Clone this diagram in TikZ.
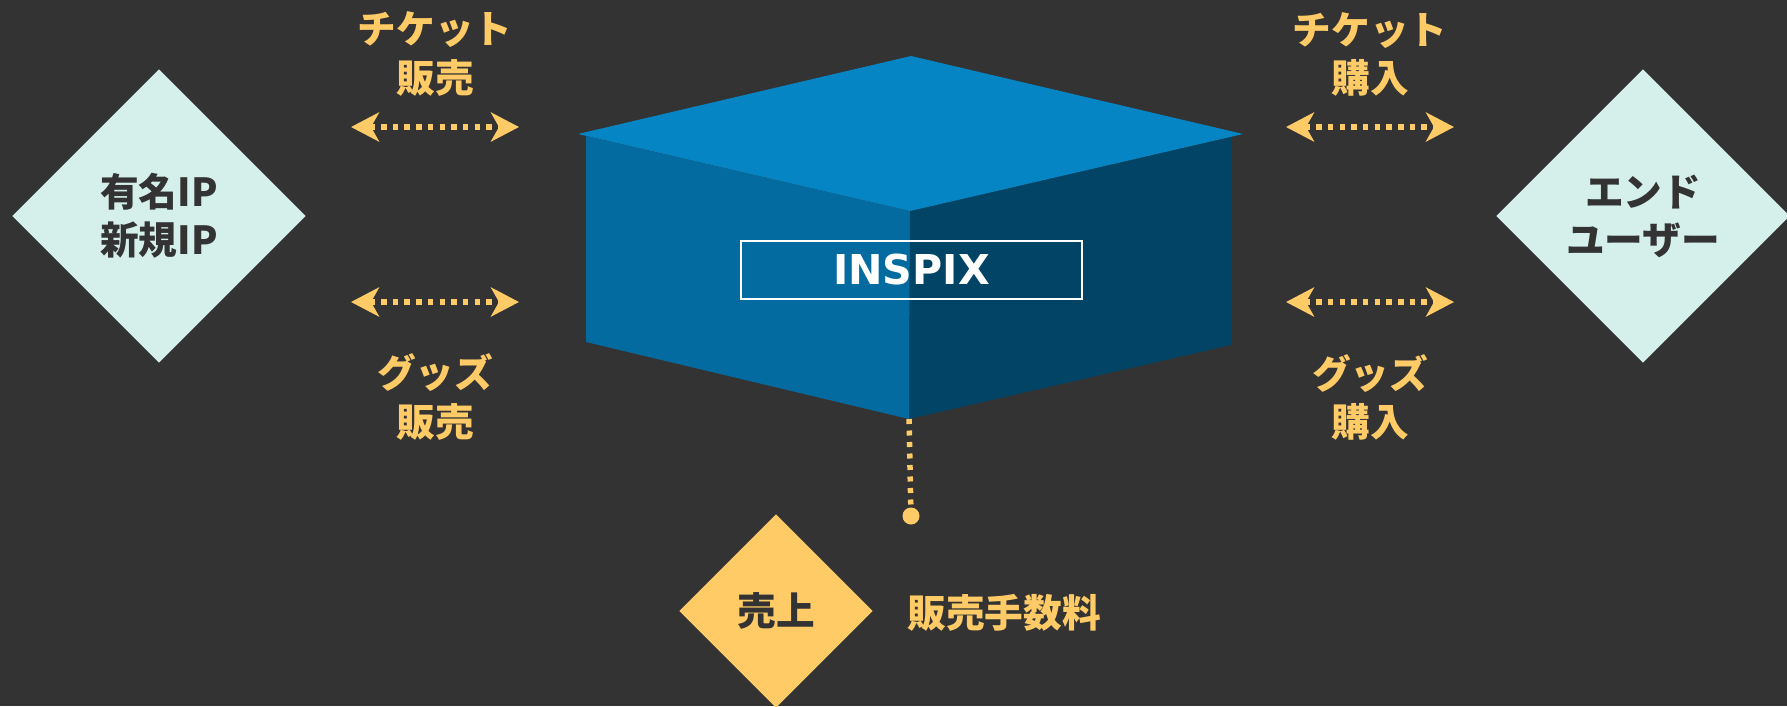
\documentclass[tikz,border=0pt]{standalone}
\usepackage{fontspec}
\newfontfamily\jpfont{Noto Sans CJK JP}
\newfontfamily\logofont{DejaVu Sans}
\usetikzlibrary{arrows.meta, shapes.geometric}
\definecolor{bgdark}{RGB}{51,51,51}
\definecolor{labelgold}{RGB}{255,203,102}
\definecolor{mintfill}{RGB}{213,240,235}
\definecolor{cubetop}{RGB}{5,133,196}
\definecolor{cubeleft}{RGB}{4,107,160}
\definecolor{cuberight}{RGB}{2,68,102}

\begin{document}
\begin{tikzpicture}
      % Styles
      \tikzset{party/.style={diamond, aspect=1, fill=mintfill, inner sep=0pt, minimum width=2.94cm, minimum height=2.94cm, text=bgdark, align=center, font=\jpfont\bfseries\fontsize{11pt}{13.7pt}\selectfont}}
      \tikzset{flowlabel/.style={text=labelgold, align=center, font=\jpfont\bfseries\fontsize{11pt}{13.7pt}\selectfont}}
      \tikzset{flow/.style={draw=labelgold, line width=0.055cm, dash pattern=on 0.055cm off 0.062cm, <->, >={Stealth[length=0.28cm, width=0.29cm, inset=0.08cm]}}}
      \tikzset{payline/.style={draw=labelgold, line width=0.055cm, dash pattern=on 0.05cm off 0.065cm}}

      % Background
      \useasboundingbox (0,0) rectangle (17.87,7.06);
      \fill[bgdark] (0,0) rectangle (17.87,7.06);

      % --- Cube ---
      \fill[cubeleft]  (5.86,5.70) -- (9.10,4.95) -- (9.09,2.87) -- (5.86,3.64) -- cycle;
      \fill[cuberight] (9.10,4.95) -- (12.31,5.69) -- (12.31,3.61) -- (9.09,2.87) -- cycle;
      \fill[cubetop]   (9.11,6.50) -- (12.43,5.72) -- (9.10,4.95) -- (5.78,5.72) -- cycle;
      \node[draw=white, line width=0.02cm, minimum width=3.41cm, minimum height=0.58cm, inner sep=0pt, text=white, font=\logofont\bfseries\fontsize{11.7pt}{14pt}\selectfont] (inspix) at (9.115,4.365) {INSPIX};
      \coordinate (cubebot) at (9.09,2.87);

      % Parties
      \node[party] (ipnode) at (1.59,4.90) {有名IP\\新規IP};
      \node[party] (usernode) at (16.43,4.90) {エンド\\ユーザー};

      % Left flows
      \coordinate (tsL) at (3.51,5.79);
      \coordinate (tsR) at (5.19,5.79);
      \coordinate (gsL) at (3.51,4.04);
      \coordinate (gsR) at (5.19,4.04);
      \draw[flow] (tsL) -- (tsR);
      \draw[flow] (gsL) -- (gsR);
      \node[flowlabel] (ticketsell) at (4.35,6.52) {チケット\\販売};
      \node[flowlabel] (goodssell) at (4.35,3.09) {グッズ\\販売};

      % Right flows
      \coordinate (tbL) at (12.86,5.79);
      \coordinate (tbR) at (14.54,5.79);
      \coordinate (gbL) at (12.86,4.04);
      \coordinate (gbR) at (14.54,4.04);
      \draw[flow] (tbL) -- (tbR);
      \draw[flow] (gbL) -- (gbR);
      \node[flowlabel] (ticketbuy) at (13.70,6.52) {チケット\\購入};
      \node[flowlabel] (goodsbuy) at (13.70,3.09) {グッズ\\購入};

      % Revenue
      \node[circle, fill=labelgold, inner sep=0pt, minimum size=0.17cm] (paydot) at (9.11,1.90) {};
      \draw[payline] (cubebot) -- (paydot);
      \node[party, fill=labelgold, minimum width=1.94cm, minimum height=1.94cm] (salesnode) at (7.76,0.95) {売上};
      \node[flowlabel, anchor=west] (feenode) at (8.95,0.93) {販売手数料};
\end{tikzpicture}
\end{document}
